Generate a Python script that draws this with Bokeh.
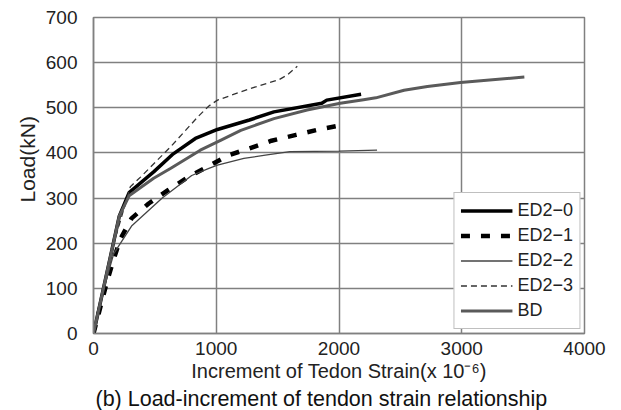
from bokeh.plotting import figure
from bokeh.models import Range1d, FixedTicker, Legend, LegendItem, Title
from bokeh.embed import file_html
from bokeh.resources import INLINE

# Load (kN) against increment of tendon strain (x 10^-6) for each specimen
ed20_strain = [0, 150, 210, 290, 490, 650, 830, 1010, 1270, 1470, 1860, 1900, 2180]
ed20_load = [0, 185, 260, 312, 358, 398, 432, 452, 473, 491, 510, 517, 530]

ed21_strain = [0, 110, 165, 220, 310, 450, 610, 775, 940, 1100, 1270, 1450, 1650, 1820, 2030]
ed21_load = [0, 115, 165, 210, 255, 288, 318, 347, 371, 395, 410, 427, 440, 451, 462]

ed22_strain = [0, 80, 165, 310, 560, 800, 940, 1010, 1225, 1400, 1600, 2000, 2310]
ed22_load = [0, 95, 177, 238, 300, 350, 366, 373, 388, 395, 403, 404, 406]

ed23_strain = [0, 150, 300, 385, 630, 850, 940, 1010, 1280, 1510, 1580, 1660]
ed23_load = [0, 185, 325, 347, 414, 480, 504, 517, 543, 562, 573, 592]

bd_strain = [0, 150, 210, 290, 490, 630, 870, 1035, 1200, 1470, 1740, 2010, 2200, 2300, 2530, 2720, 2990, 3510]
bd_load = [0, 185, 260, 305, 344, 366, 406, 428, 450, 476, 495, 510, 518, 522, 539, 547, 556, 568]

x_ticks = [0, 1000, 2000, 3000, 4000]
y_ticks = [0, 100, 200, 300, 400, 500, 600, 700]

FONT = "Liberation Sans"
TEXT = "#222222"
GRID = "#808080"

p = figure(width=621, height=410, output_backend="svg", toolbar_location=None,
           x_range=Range1d(0, 4000), y_range=Range1d(0, 700),
           min_border_left=93, min_border_right=37, min_border_top=17, min_border_bottom=77)
p.background_fill_color = "white"
p.border_fill_color = "white"
p.outline_line_color = GRID
p.outline_line_width = 1.5

for ax, ticks in ((p.xaxis[0], x_ticks), (p.yaxis[0], y_ticks)):
    ax.ticker = FixedTicker(ticks=ticks)
    ax.major_tick_in = 0
    ax.major_tick_out = 0
    ax.minor_tick_in = 0
    ax.minor_tick_out = 0
    ax.axis_line_color = GRID
    ax.axis_line_width = 1.5
    ax.major_label_text_font = FONT
    ax.major_label_text_font_size = "19px"
    ax.major_label_text_color = TEXT
    ax.axis_label_text_font = FONT
    ax.axis_label_text_font_style = "normal"
    ax.axis_label_text_color = TEXT

p.yaxis.major_label_standoff = 16
p.xaxis.major_label_standoff = 8
p.xaxis.axis_label = "Increment of Tedon Strain(x 10\u207b\u2076)"
p.xaxis.axis_label_text_font_size = "20px"
p.xaxis.axis_label_standoff = 2

for g in (p.xgrid[0], p.ygrid[0]):
    g.grid_line_color = GRID
    g.grid_line_width = 1.5

# vertical axis title, starting a little above the middle of the frame
ytitle = Title(text="Load(kN)", align="left", offset=131,
               text_font=FONT, text_font_size="21px", text_font_style="normal",
               text_color=TEXT, standoff=8)
p.add_layout(ytitle, "left")

caption = Title(text="(b) Load-increment of tendon strain relationship", align="left", offset=2,
                text_font=FONT, text_font_size="21.5px", text_font_style="normal",
                text_color="#111111", standoff=0)
p.add_layout(caption, "below")

r0 = p.line(ed20_strain, ed20_load, line_color="black", line_width=3.5)
r1 = p.line(ed21_strain, ed21_load, line_color="black", line_width=4.5, line_dash="9 11")
r2 = p.line(ed22_strain, ed22_load, line_color="#444444", line_width=1.3)
r3 = p.line(ed23_strain, ed23_load, line_color="#333333", line_width=1.3, line_dash="6 4")
rb = p.line(bd_strain, bd_load, line_color="#5a5a5a", line_width=3)

legend = Legend(items=[
    LegendItem(label="ED2\u22120", renderers=[r0]),
    LegendItem(label="ED2\u22121", renderers=[r1]),
    LegendItem(label="ED2\u22122", renderers=[r2]),
    LegendItem(label="ED2\u22123", renderers=[r3]),
    LegendItem(label="BD", renderers=[rb]),
], location="bottom_right")
legend.margin = 4
legend.padding = 6
legend.spacing = 2
legend.glyph_width = 52
legend.glyph_height = 23
legend.label_height = 23
legend.label_standoff = 5
legend.label_text_font = FONT
legend.label_text_font_size = "18px"
legend.label_text_color = TEXT
legend.border_line_color = GRID
legend.border_line_width = 1.5
legend.background_fill_alpha = 1.0
p.add_layout(legend)

open("out.html", "w").write(file_html(p, INLINE))
